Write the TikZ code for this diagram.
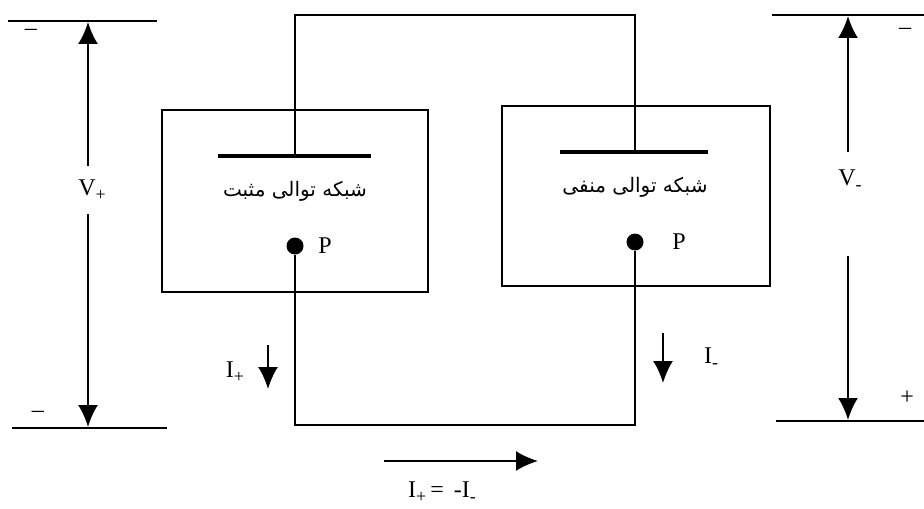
\documentclass[tikz,border=0pt]{standalone}
\usepackage{fontspec}
\setmainfont{Liberation Serif}
\newfontfamily\arabicfont[Script=Arabic]{DejaVu Sans}
\usetikzlibrary{calc, arrows.meta, positioning}
\newcommand{\lsub}[1]{\raisebox{-0.45ex}{\small #1}}

\begin{document}
\begin{tikzpicture}[x=0.5pt, y=-0.5pt,
    arr/.style={-{Latex[length=11pt, width=10pt]}},
    seqbox/.style={draw, line width=1.1pt, minimum width=133pt, minimum height=91pt, inner sep=0pt},
    plate/.style={line width=2.4pt},
    wire/.style={line width=1.1pt},
    rail/.style={line width=1.1pt},
    pdot/.style={circle, fill, inner sep=0pt, minimum size=8.5pt},
    lbl/.style={inner sep=1pt, font=\large}]

    % =================================================================
    % 1. KHUNG HÌNH
    % =================================================================
    \useasboundingbox (0,0) rectangle (924,508);

    % =================================================================
    % 2. HAI MẠNG THỨ TỰ (HỘP, BẢN CỰC, ĐIỂM P)
    % =================================================================
    \node[seqbox] (boxPos) at (295,201) {};
    \node[seqbox, minimum width=134pt, minimum height=90pt] (boxNeg) at (636,196) {};

    \coordinate (plPosL) at (218,156);
    \coordinate (plPosR) at (371,156);
    \coordinate (plPos) at (295,156);
    \coordinate (plNegL) at (560,152);
    \coordinate (plNegR) at (708,152);
    \coordinate (plNeg) at (635,152);
    \draw[plate] (plPosL) -- (plPosR);
    \draw[plate] (plNegL) -- (plNegR);

    \node[inner sep=1pt] (txtPos) at (295,191)
        {{\TeXXeTstate=1 \arabicfont\beginR شبکه توالی مثبت\endR}};
    \node[inner sep=1pt] (txtNeg) at (635,187)
        {{\TeXXeTstate=1 \arabicfont\beginR شبکه توالی منفی\endR}};

    \node[pdot] (pPos) at (295,246) {};
    \node[pdot] (pNeg) at (635,242) {};
    \node[lbl, right=6pt of pPos] (pPosLbl) {P};
    \node[lbl, right=13pt of pNeg] (pNegLbl) {P};

    % =================================================================
    % 3. DÂY NỐI
    % =================================================================
    \coordinate (topL) at (295,15);
    \coordinate (topR) at (635,15);
    \draw[wire] (plPos) -- (topL) -- (topR) -- (plNeg);

    \coordinate (botL) at (295,425);
    \coordinate (botR) at (635,425);
    \draw[wire] (pPos) -- (botL) -- (botR) -- (pNeg);

    % =================================================================
    % 4. ĐIỆN ÁP V+ VÀ V-
    % =================================================================
    \coordinate (railLt1) at (8,21);
    \coordinate (railLt2) at (157,21);
    \coordinate (railLb1) at (12,428);
    \coordinate (railLb2) at (167,428);
    \draw[rail] (railLt1) -- (railLt2);
    \draw[rail] (railLb1) -- (railLb2);
    \node[lbl] (vPos) at (92,190) {V\lsub{+}};
    \draw[wire, arr] (88,166) -- (88,22);
    \draw[wire, arr] (88,214) -- (88,427);
    \node[lbl] (mLt) at (31,32) {–};
    \node[lbl] (mLb) at (38,414) {–};

    \coordinate (railRt1) at (772,15);
    \coordinate (railRt2) at (924,15);
    \coordinate (railRb1) at (776,421);
    \coordinate (railRb2) at (924,421);
    \draw[rail] (railRt1) -- (railRt2);
    \draw[rail] (railRb1) -- (railRb2);
    \node[lbl] (vNeg) at (850,180) {V\lsub{-}};
    \draw[wire, arr] (848,152) -- (848,16);
    \draw[wire, arr] (848,256) -- (848,420);
    \node[lbl] (mRt) at (905,31) {–};
    \node[lbl] (pRb) at (907,398) {+};

    % =================================================================
    % 5. DÒNG ĐIỆN
    % =================================================================
    \node[lbl] (iPos) at (235,372) {I\lsub{+}};
    \draw[wire, arr] (268,345) -- (268,389);
    \node[lbl] (iNeg) at (711,358) {I\lsub{-}};
    \draw[wire, arr] (663,333) -- (663,383);

    \coordinate (flowA) at (384,461);
    \coordinate (flowB) at (538,461);
    \draw[wire, arr] (flowA) -- (flowB);
    \node[lbl] (iEq) at (442,492) {I\lsub{+}\,= \,-I\lsub{-}};

\end{tikzpicture}
\end{document}
